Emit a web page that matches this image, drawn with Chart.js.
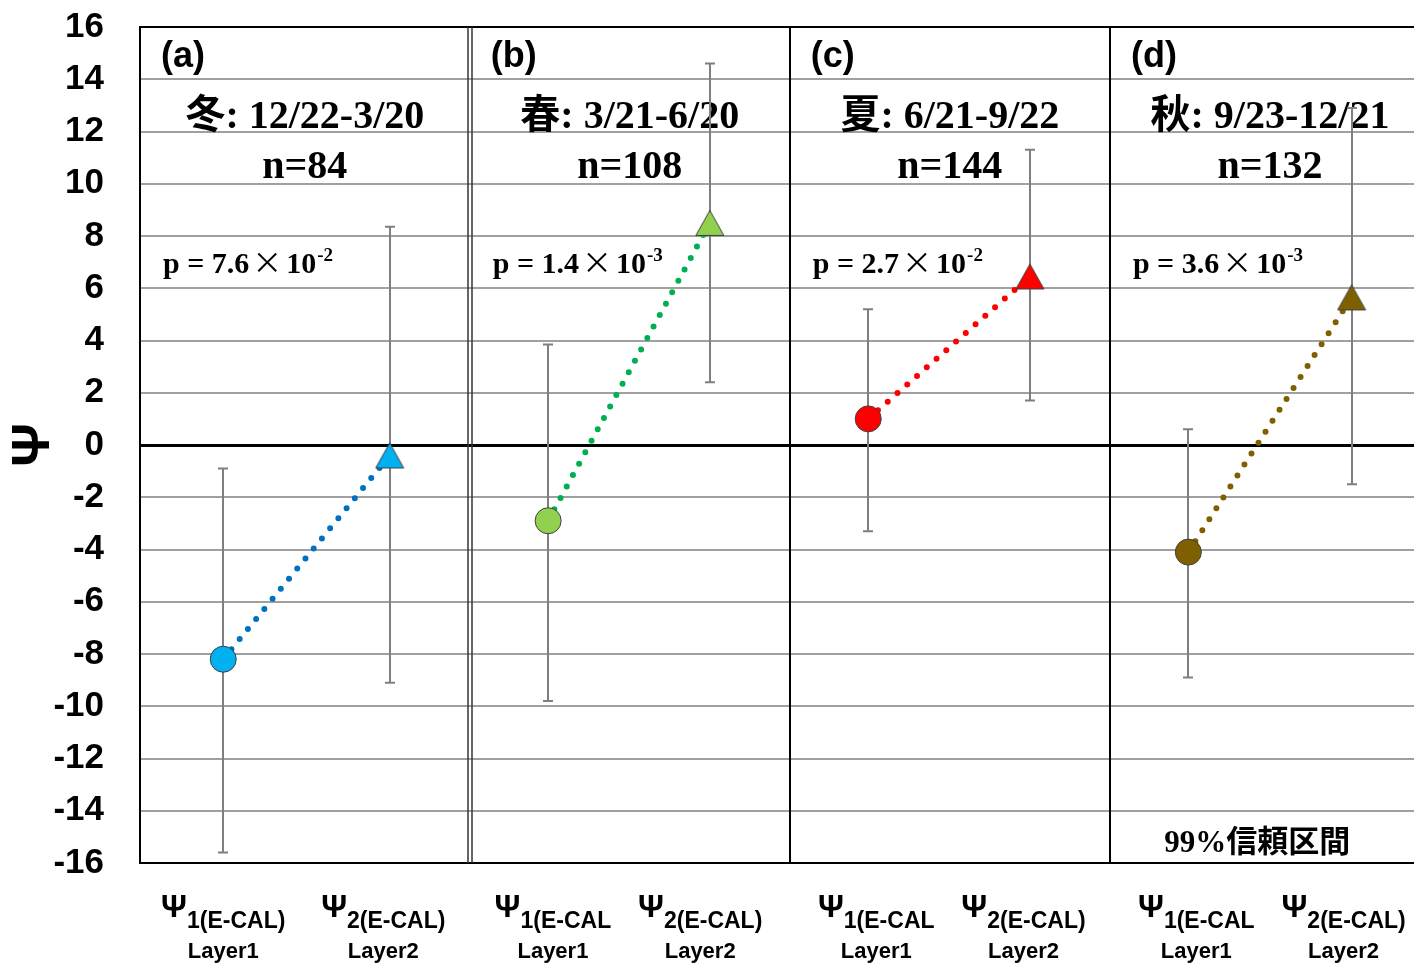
<!DOCTYPE html>
<html>
<head>
<meta charset="utf-8">
<script src="https://cdn.jsdelivr.net/npm/chart.js@4.4.0/dist/chart.umd.min.js"></script>
<style>
  html, body { margin: 0; padding: 0; background: #fff; overflow: hidden; }
  #wrap { width: 1414px; height: 963px; }
</style>
</head>
<body>
<div id="wrap"><canvas id="psiChart"></canvas></div>
<script>
// panels: one per season
const panelTags = ['(a)', '(b)', '(c)', '(d)'];
const seasons = ['冬: 12/22-3/20', '春: 3/21-6/20', '夏: 6/21-9/22', '秋: 9/23-12/21'];
const counts = [84, 108, 144, 132];
const pMantissa = ['7.6', '1.4', '2.7', '3.6'];
const pExponent = ['-2', '-3', '-2', '-3'];
const panelEdges = [-0.03, 1, 2, 3, 4];

// Layer1 (circle) and Layer2 (triangle) means with 99% CI
const layer1X = [0.23, 1.245, 2.245, 3.245];
const layer1Mean = [-8.2, -2.9, 1.0, -4.1];
const layer1Low = [-15.6, -9.8, -3.3, -8.9];
const layer1High = [-0.9, 3.85, 5.2, 0.6];

const layer2X = [0.75, 1.75, 2.75, 3.755];
const layer2Mean = [-0.4, 8.5, 6.45, 5.65];
const layer2Low = [-9.1, 2.4, 1.7, -1.5];
const layer2High = [8.35, 14.6, 11.3, 12.9];

// category labels under the axis
const labelX1 = [0.23, 1.26, 2.27, 3.27];
const labelX2 = [0.73, 1.72, 2.73, 3.73];
const layer1Sub = ['1(E-CAL)', '1(E-CAL', '1(E-CAL', '1(E-CAL'];
const layer2Sub = ['2(E-CAL)', '2(E-CAL)', '2(E-CAL)', '2(E-CAL)'];
const yTicks = { min: -16, max: 16, step: 2 };

const lineColors = ['#0070C0', '#00B050', '#FF0000', '#7F6000'];
const markerColors = ['#00B0F0', '#92D050', '#FF0000', '#7F6000'];

const sans = '"Liberation Sans", Arial, sans-serif';
const serif = '"Liberation Serif", "Noto Sans CJK JP", serif';
const cjk = '"Noto Sans CJK JP", sans-serif';

function makeTriangle(fill) {
  const c = document.createElement('canvas');
  c.width = 30; c.height = 28;
  const g = c.getContext('2d');
  g.beginPath();
  g.moveTo(15, 1.5);
  g.lineTo(29, 26.5);
  g.lineTo(1, 26.5);
  g.closePath();
  g.fillStyle = fill;
  g.fill();
  g.strokeStyle = '#404040';
  g.lineWidth = 1;
  g.stroke();
  return c;
}

// draws a run of [text, font, dy, gapAfter] pieces from x, returns end x
function drawRun(ctx, pieces, x, base) {
  pieces.forEach(([txt, font, dy, gap]) => {
    ctx.font = font;
    ctx.fillText(txt, x, base + dy);
    x += ctx.measureText(txt).width + (gap || 0);
  });
  return x;
}

const panelText = {
  id: 'panelText',
  beforeDatasetsDraw(chart) {
    const { ctx, chartArea, scales: { x, y } } = chart;
    ctx.save();
    // panel separators
    for (let i = 1; i < panelEdges.length - 1; i++) {
      const px = Math.round(x.getPixelForValue(panelEdges[i]));
      ctx.strokeStyle = '#000';
      if (i === 1) {
        ctx.lineWidth = 1.5;
        ctx.strokeStyle = '#333';
        [-2, 2].forEach(d => {
          ctx.beginPath();
          ctx.moveTo(px + d, chartArea.top);
          ctx.lineTo(px + d, chartArea.bottom);
          ctx.stroke();
        });
      } else {
        ctx.lineWidth = 2;
        ctx.beginPath();
        ctx.moveTo(px, chartArea.top);
        ctx.lineTo(px, chartArea.bottom);
        ctx.stroke();
      }
    }

    ctx.fillStyle = '#000';
    panelTags.forEach((tag, i) => {
      const left = Math.max(x.getPixelForValue(panelEdges[i]), chartArea.left) + 21;
      const mid = x.getPixelForValue((panelEdges[i] + panelEdges[i + 1]) / 2);

      ctx.textAlign = 'left';
      ctx.textBaseline = 'alphabetic';
      ctx.font = 'bold 36px ' + sans;
      ctx.fillText(tag, left, y.getPixelForValue(14.45));

      ctx.textAlign = 'center';
      ctx.font = 'bold 40px ' + serif;
      ctx.fillText(seasons[i], mid, y.getPixelForValue(12.13));
      ctx.fillText('n=' + counts[i], mid, y.getPixelForValue(10.22));

      ctx.textAlign = 'left';
      const base = y.getPixelForValue(6.58);
      drawRun(ctx, [
        ['p = ' + pMantissa[i], 'bold 30px ' + serif, 0, 3],
        ['×', '30px ' + cjk, 0, 4],
        ['10', 'bold 30px ' + serif, 0, 1],
        [pExponent[i], 'bold 19px ' + serif, -12, 0]
      ], left + 2, base);
    });

    ctx.textAlign = 'center';
    ctx.font = 'bold 31px ' + serif;
    ctx.fillText('99%信頼区間', x.getPixelForValue(3.46), y.getPixelForValue(-15.58));
    ctx.restore();
  }
};

const errorBars = {
  id: 'errorBars',
  beforeDatasetsDraw(chart) {
    const { ctx, scales: { x, y } } = chart;
    ctx.save();
    ctx.strokeStyle = '#7f7f7f';
    ctx.lineWidth = 2;
    const sets = [[layer1X, layer1Low, layer1High], [layer2X, layer2Low, layer2High]];
    sets.forEach(([xs, lows, highs]) => {
      xs.forEach((xv, i) => {
        const px = Math.round(x.getPixelForValue(xv));
        const top = y.getPixelForValue(highs[i]);
        const bot = y.getPixelForValue(lows[i]);
        ctx.beginPath();
        ctx.moveTo(px, top); ctx.lineTo(px, bot);
        ctx.moveTo(px - 5, top); ctx.lineTo(px + 5, top);
        ctx.moveTo(px - 5, bot); ctx.lineTo(px + 5, bot);
        ctx.stroke();
      });
    });
    ctx.restore();
  }
};

const axisLabels = {
  id: 'axisLabels',
  afterDraw(chart) {
    const { ctx, chartArea, scales: { x } } = chart;
    ctx.save();
    ctx.fillStyle = '#000';
    ctx.textBaseline = 'alphabetic';
    const groups = [[labelX1, layer1Sub, 'Layer1'], [labelX2, layer2Sub, 'Layer2']];
    groups.forEach(([xs, subs, name]) => {
      xs.forEach((xv, i) => {
        const px = x.getPixelForValue(xv);
        ctx.font = 'bold 32px ' + sans;
        const wPsi = ctx.measureText('Ψ').width;
        ctx.font = 'bold 23px ' + sans;
        const wSub = ctx.measureText(subs[i]).width;
        const start = px - (wPsi + wSub) / 2;
        ctx.textAlign = 'left';
        ctx.font = 'bold 32px ' + sans;
        ctx.fillText('Ψ', start, chartArea.bottom + 54);
        ctx.font = 'bold 23px ' + sans;
        ctx.fillText(subs[i], start + wPsi, chartArea.bottom + 65);
        ctx.textAlign = 'center';
        ctx.font = 'bold 22px ' + sans;
        ctx.fillText(name, px, chartArea.bottom + 95);
      });
    });
    ctx.restore();
  }
};

const datasets = panelTags.map((tag, i) => ({
  label: tag,
  data: [{ x: layer1X[i], y: layer1Mean[i] }, { x: layer2X[i], y: layer2Mean[i] }],
  showLine: true,
  borderColor: lineColors[i],
  borderWidth: 6,
  borderDash: [0, 13],
  borderCapStyle: 'round',
  pointStyle: ['circle', makeTriangle(markerColors[i])],
  pointRadius: 13,
  pointHoverRadius: 13,
  pointBackgroundColor: markerColors[i],
  pointBorderColor: '#404040',
  pointBorderWidth: 1
}));

new Chart(document.getElementById('psiChart'), {
  type: 'scatter',
  data: { datasets: datasets },
  plugins: [panelText, errorBars, axisLabels],
  options: {
    responsive: true,
    maintainAspectRatio: false,
    animation: false,
    layout: { autoPadding: false, padding: { left: 0, top: 27, right: 0, bottom: 100 } },
    plugins: { legend: { display: false }, tooltip: { enabled: false } },
    scales: {
      x: {
        type: 'linear',
        display: false,
        min: panelEdges[0],
        max: 3.95
      },
      y: {
        min: yTicks.min,
        max: yTicks.max,
        afterFit: function (scale) {
          scale.width = 140;
          scale.paddingTop = 0;
          scale.paddingBottom = 0;
        },
        ticks: {
          stepSize: yTicks.step,
          padding: 36,
          color: '#000',
          font: { family: sans, size: 35, weight: 'bold' }
        },
        grid: {
          drawTicks: false,
          color: c => (c.tick.value === 0 || c.tick.value === yTicks.min || c.tick.value === yTicks.max) ? '#000' : '#a0a0a0',
          lineWidth: c => c.tick.value === 0 ? 3 : 2
        },
        border: { display: true, color: '#000', width: 2 },
        title: {
          display: true,
          text: 'Ψ',
          color: '#000',
          font: { family: sans, size: 54, weight: 'bold', lineHeight: 1.2 },
          padding: { top: 2, bottom: 0 }
        }
      }
    }
  }
});
</script>
</body>
</html>
